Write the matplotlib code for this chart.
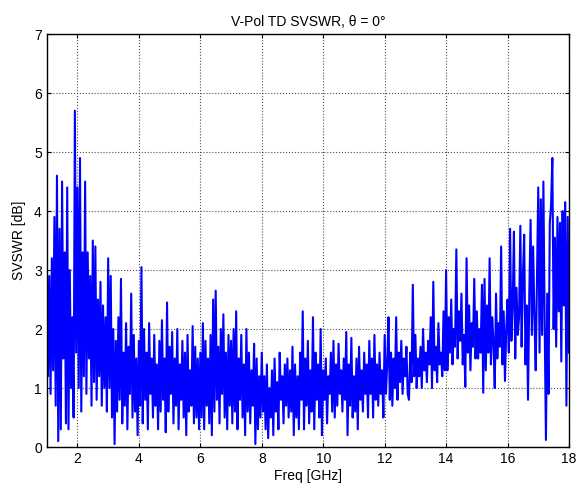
import numpy as np
import matplotlib
matplotlib.use('Agg')
import matplotlib.pyplot as plt

# SVSWR values, one row per GHz (24 samples each)
svswr_db = [
    3.4, 1.2, 2.9, 0.9, 3.2, 1.3, 3.9, 0.7, 4.6, 0.1, 3.7, 0.3, 4.5, 1.5, 3.3, 0.4, 4.4, 0.3, 3.0, 1.0, 2.2, 0.5, 5.7, 1.6,
    4.4, 1.0, 4.9, 0.6, 3.3, 1.2, 4.5, 0.9, 3.3, 1.5, 2.9, 0.7, 3.5, 1.1, 3.4, 0.8, 2.5, 1.2, 2.8, 0.7, 2.4, 1.0, 2.2, 0.6,
    3.2, 1.0, 2.9, 0.5, 2.0, 0.05, 1.8, 0.6, 2.2, 0.8, 2.85, 0.4, 1.6, 0.7, 2.1, 0.3, 1.7, 0.9, 2.6, 0.5, 1.9, 0.6, 1.5, 0.2,
    1.8, 0.7, 3.05, 0.4, 2.0, 0.8, 1.6, 0.3, 2.1, 0.9, 1.5, 0.5, 1.9, 0.7, 1.4, 0.3, 1.8, 0.6, 2.15, 0.8, 1.5, 0.25, 2.45, 0.6,
    1.7, 0.9, 1.95, 0.4, 1.5, 0.7, 2.0, 0.3, 1.4, 0.8, 1.8, 0.5, 1.6, 0.2, 1.9, 0.6, 1.3, 0.7, 2.05, 0.4, 1.7, 0.5, 1.5, 0.3,
    1.6, 0.5, 2.1, 0.3, 1.8, 0.7, 1.5, 0.4, 1.9, 0.2, 2.5, 0.6, 2.65, 0.8, 1.7, 0.4, 2.0, 0.9, 2.25, 0.5, 1.6, 0.3, 1.9, 0.7,
    1.8, 0.4, 2.0, 0.6, 2.3, 0.3, 1.5, 0.8, 1.9, 0.5, 1.4, 0.2, 2.0, 0.6, 1.6, 0.4, 1.3, 0.7, 1.75, 0.05, 1.5, 0.3, 1.2, 0.5,
    1.6, 0.6, 1.2, 0.3, 1.4, 0.15, 1.0, 0.5, 1.3, 0.2, 1.5, 0.6, 1.1, 0.3, 1.6, 0.8, 1.2, 0.4, 1.4, 0.7, 1.5, 0.5, 1.3, 0.6,
    1.7, 0.2, 1.4, 0.5, 1.2, 0.3, 1.6, 0.8, 2.3, 0.3, 1.5, 0.7, 1.8, 0.4, 1.3, 0.6, 2.2, 0.3, 1.6, 0.8, 1.4, 0.5, 2.0, 0.2,
    1.3, 0.8, 1.5, 0.4, 1.2, 0.9, 1.6, 0.6, 1.8, 0.5, 1.4, 0.7, 1.75, 0.9, 1.3, 0.6, 1.5, 0.8, 1.95, 0.2, 1.4, 0.7, 1.85, 0.5,
    1.2, 0.6, 1.5, 0.3, 1.7, 0.8, 1.3, 0.6, 1.6, 0.9, 1.4, 0.5, 1.8, 0.9, 1.5, 0.5, 1.9, 0.8, 1.4, 0.7, 1.6, 0.9, 1.3, 0.5,
    1.9, 0.9, 1.4, 2.2, 0.8, 1.6, 0.7, 1.5, 1.0, 2.2, 0.8, 1.6, 1.1, 1.8, 0.9, 1.5, 1.2, 1.7, 0.9, 0.8, 1.6, 1.1, 2.75, 1.2,
    1.9, 1.0, 1.5, 1.2, 1.7, 1.0, 2.0, 1.3, 1.6, 1.1, 1.8, 1.4, 2.2, 1.0, 2.8, 1.3, 1.7, 1.1, 2.1, 1.4, 1.6, 1.2, 2.3, 1.3,
    3.0, 1.3, 2.2, 1.6, 2.5, 1.4, 2.0, 1.7, 3.35, 1.5, 2.3, 1.8, 2.6, 1.4, 1.9, 1.02, 3.2, 1.6, 2.4, 1.3, 2.1, 1.7, 2.85, 1.5,
    2.3, 1.5, 2.0, 1.6, 2.75, 0.92, 2.85, 1.3, 2.4, 1.6, 3.2, 1.4, 2.2, 1.8, 1.0, 2.6, 1.5, 2.1, 1.7, 3.4, 1.4, 2.3, 1.12, 2.0,
    2.5, 1.6, 3.7, 1.8, 2.4, 3.65, 1.5, 2.7, 1.9, 2.2, 3.75, 1.7, 2.9, 3.6, 1.4, 2.4, 0.8, 2.6, 3.85, 1.9, 3.4, 2.2, 1.3, 2.8,
    4.4, 1.6, 4.2, 1.9, 4.5, 2.1, 0.12, 2.6, 0.9, 3.8, 4.1, 4.9, 2.0, 3.55, 1.7, 3.9, 2.3, 3.8, 1.45, 4.0, 2.4, 4.15, 0.7, 3.9,
    1.6,
]
freq_ghz = np.linspace(1, 18, len(svswr_db))

x_ticks = [2, 4, 6, 8, 10, 12, 14, 16, 18]
y_ticks = [0, 1, 2, 3, 4, 5, 6, 7]

plt.rcParams['font.family'] = ['Liberation Sans', 'DejaVu Sans']

fig = plt.figure(figsize=(5.79, 4.91), dpi=100)
ax = fig.add_axes([0.0807, 0.0896, 0.902, 0.841])

ax.plot(freq_ghz, svswr_db, color='#0000ff', linewidth=1.5)

ax.set_xlim(1, 18)
ax.set_ylim(0, 7)
ax.set_xticks(x_ticks)
ax.set_yticks(y_ticks)
ax.grid(True, linestyle=':', color='#505050', linewidth=0.8)
ax.tick_params(direction='in', top=True, right=True, labelsize=10, length=3)
for s in ax.spines.values():
    s.set_linewidth(1.0)

ax.set_xlabel('Freq [GHz]', fontsize=10, labelpad=2)
ax.set_ylabel('SVSWR [dB]', fontsize=10, labelpad=6)
ax.set_title('V-Pol TD SVSWR, \u03b8 = 0°', fontsize=10, pad=6)

fig.savefig('out.png', dpi=100)
